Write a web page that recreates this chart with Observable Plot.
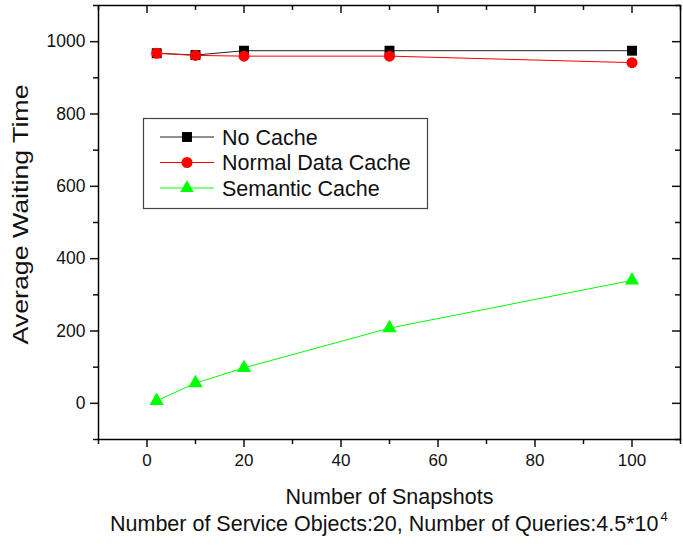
<!DOCTYPE html>
<html>
<head>
<meta charset="utf-8">
<script src="https://cdn.jsdelivr.net/npm/d3@7"></script>
<script src="https://cdn.jsdelivr.net/npm/@observablehq/plot@0.6"></script>
<style>
  body { margin: 0; background: #fff; font-family: "Liberation Sans", Arial, sans-serif; }
  #wrap { position: relative; width: 683px; }
  #caption { width: 683px; font-size: 21.5px; color: #111; position: relative; height: 36px; }
  #caption span { position: absolute; left: 110px; top: 2px; white-space: nowrap; }
  sup { font-size: 13px; vertical-align: 10px; line-height: 0; margin-left: 2px; }
</style>
</head>
<body>
<div id="wrap"></div>
<div id="caption"><span>Number of Service Objects:20, Number of Queries:4.5*10<sup>4</sup></span></div>
<script>
const snapshots = [2, 10, 20, 50, 100];
const noCache = [968, 963, 975, 975, 975];
const normalCache = [968, 962, 960, 960, 942];
const semanticCache = [7, 56, 98, 208, 340];
const seriesNames = ["No Cache", "Normal Data Cache", "Semantic Cache"];
const xMajor = [0, 20, 40, 60, 80, 100];
const xMinor = [-10, 10, 30, 50, 70, 90, 110];
const yMajor = [0, 200, 400, 600, 800, 1000];
const yMinor = [-100, 100, 300, 500, 700, 900, 1100];

const rows = (vals, name) => snapshots.map((s, i) => ({x: s, y: vals[i], series: name}));
const dNo = rows(noCache, seriesNames[0]);
const dNormal = rows(normalCache, seriesNames[1]);
const dSem = rows(semanticCache, seriesNames[2]);

const W = 683, H = 510, mL = 98, mR = 3, mT = 5, mB = 71;
const fw = W - mL - mR, fh = H - mT - mB;

const chart = Plot.plot({
  width: W, height: H,
  marginLeft: mL, marginRight: mR, marginTop: mT, marginBottom: mB,
  style: {fontFamily: "Liberation Sans, Arial, sans-serif", fontSize: "17px", color: "#111", background: "#fff"},
  x: {domain: [-10, 110]},
  y: {domain: [-100, 1100]},
  marks: [
    Plot.axisX(xMajor, {anchor: "bottom", tickSize: 8, tickPadding: 6, strokeWidth: 1.5, tickFormat: d3.format("d"), label: "Number of Snapshots", labelAnchor: "center", labelArrow: "none", labelOffset: 64, fontSize: 17}),
    Plot.axisX(xMinor, {anchor: "bottom", tickSize: 5, strokeWidth: 1.5, tickFormat: () => "", label: null}),
    Plot.axisY(yMajor, {anchor: "left", tickSize: 8, tickPadding: 5, strokeWidth: 1.5, tickFormat: d3.format("d"), label: "Average Waiting Time", labelAnchor: "center", labelArrow: "none", labelOffset: 86, fontSize: 17.5}),
    Plot.axisY(yMinor, {anchor: "left", tickSize: 5, strokeWidth: 1.5, tickFormat: () => "", label: null}),
    Plot.ruleX(xMajor, {x: d => d, insetBottom: fh - 8, strokeWidth: 1.5}),
    Plot.ruleX(xMinor, {x: d => d, insetBottom: fh - 5, strokeWidth: 1.5}),
    Plot.ruleY(yMajor, {y: d => d, insetLeft: fw - 8, strokeWidth: 1.5}),
    Plot.ruleY(yMinor, {y: d => d, insetLeft: fw - 5, strokeWidth: 1.5}),
    Plot.frame({stroke: "#000", strokeWidth: 1.5}),
    Plot.line(dNo, {x: "x", y: "y", stroke: "#222", strokeWidth: 1}),
    Plot.dot(dNo, {x: "x", y: "y", symbol: "square", r: 5.6, fill: "#000"}),
    Plot.line(dNormal, {x: "x", y: "y", stroke: "#ff0000", strokeWidth: 1}),
    Plot.dot(dNormal, {x: "x", y: "y", symbol: "circle", r: 5.5, fill: "#ff0000"}),
    Plot.line(dSem, {x: "x", y: "y", stroke: "#00ff00", strokeWidth: 1}),
    Plot.dot(dSem, {x: "x", y: "y", symbol: "triangle", r: 5.3, fill: "#00ff00"})
  ]
});
chart.querySelectorAll("[aria-label='x-axis label'] text").forEach(t => t.setAttribute("font-size", "21.5"));
chart.querySelectorAll("[aria-label='y-axis label'] text").forEach(t => {
  t.setAttribute("font-size", "21.5");
  t.setAttribute("textLength", "260");
  t.setAttribute("lengthAdjust", "spacingAndGlyphs");
  t.setAttribute("dx", "8");
});
document.getElementById("wrap").appendChild(chart);

// legend box
const svg = d3.select(chart);
const lg = svg.append("g").attr("font-family", "Liberation Sans, Arial, sans-serif").attr("font-size", 21.5).attr("text-anchor", "start");
lg.append("rect").attr("x", 143.5).attr("y", 118.5).attr("width", 284).attr("height", 90)
  .attr("fill", "#fff").attr("stroke", "#444").attr("stroke-width", 1.2);
const colors = ["#000", "#ff0000", "#00ff00"];
const lineColors = ["#222", "#ff0000", "#00ff00"];
const syms = [d3.symbolSquare, d3.symbolCircle, d3.symbolTriangle];
const sizes = [Math.PI * 5.6 * 5.6, Math.PI * 5.5 * 5.5, Math.PI * 25];
seriesNames.forEach((name, i) => {
  const cy = 137 + i * 25.5;
  lg.append("line").attr("x1", 160).attr("x2", 214).attr("y1", cy).attr("y2", cy).attr("stroke", lineColors[i]).attr("stroke-width", 1);
  lg.append("path").attr("d", d3.symbol(syms[i], sizes[i])()).attr("transform", `translate(187,${cy})`).attr("fill", colors[i]);
  lg.append("text").attr("x", 222).attr("y", cy).attr("dy", "0.36em").attr("fill", "#111").text(name);
});
</script>
</body>
</html>
